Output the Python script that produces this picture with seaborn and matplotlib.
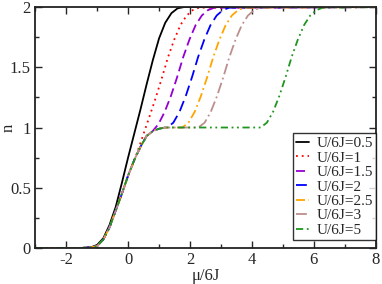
import matplotlib
matplotlib.use("Agg")
import matplotlib.pyplot as plt
import seaborn as sns
from matplotlib.ticker import MultipleLocator

sns.set_style("ticks")
plt.rcParams["font.family"] = ["Liberation Serif", "DejaVu Serif"]

# values
mu_low = [-3, -1.5, -1.2, -1.0, -0.8, -0.6, -0.4, -0.2, 0.0, 0.2, 0.4, 0.6, 0.8, 1.0, 1.2]
n_low = [0, 0, 0.005, 0.015, 0.07, 0.17, 0.31, 0.45, 0.6, 0.73, 0.84, 0.93, 0.97, 0.99, 1.0]
n_top = [1.0, 1.04, 1.13, 1.26, 1.415, 1.585, 1.73, 1.85, 1.93, 1.975, 1.995, 2.0]

mu_u05 = [-3, -1.5, -1.2, -1.0, -0.8, -0.6, -0.4, -0.2, 0.0, 0.2, 0.4, 0.6, 0.8, 1.0, 1.2, 1.4, 1.6, 1.8, 8]
n_u05 = [0, 0, 0.005, 0.025, 0.08, 0.19, 0.34, 0.54, 0.75, 0.95, 1.15, 1.36, 1.56, 1.74, 1.87, 1.95, 1.99, 2.0, 2.0]

mu_u1 = mu_low[:10] + [0.29, 0.49, 0.69, 0.89, 1.09, 1.29, 1.49, 1.69, 1.89, 2.09, 2.29, 8]
n_u1 = n_low[:10] + [0.79, 0.94, 1.09, 1.245, 1.41, 1.585, 1.73, 1.85, 1.93, 1.975, 1.995, 2.0]

mu_u15 = mu_low[:12] + [0.78, 0.98, 1.18, 1.38, 1.58, 1.78, 1.98, 2.18, 2.38, 2.58, 2.78, 8]
n_u15 = n_low[:12] + [0.966, 1.028, 1.129, 1.26, 1.415, 1.585, 1.73, 1.85, 1.93, 1.975, 1.995, 2.0]

mu_u2 = mu_low + [1.26, 1.46, 1.66, 1.86, 2.06, 2.26, 2.46, 2.66, 2.86, 3.06, 3.26, 8]
mu_u25 = mu_low + [1.75, 1.95, 2.15, 2.35, 2.55, 2.75, 2.95, 3.15, 3.35, 3.55, 3.75, 8]
mu_u3 = mu_low + [2.27, 2.47, 2.67, 2.87, 3.07, 3.27, 3.47, 3.67, 3.87, 4.07, 4.27, 8]
mu_u5 = mu_low + [4.28, 4.48, 4.68, 4.88, 5.08, 5.28, 5.48, 5.68, 5.88, 6.08, 6.28, 8]

labels = ["U/6J=0.5", "U/6J=1", "U/6J=1.5", "U/6J=2", "U/6J=2.5", "U/6J=3", "U/6J=5"]
colors = ["black", "#ff0000", "#9400d3", "#0000ff", "#ffa500", "#bc8f8f", "#1e961e"]
styles = ["-", (0, (1, 2.2)), (0, (5, 2.5)), (0, (6, 3)), (0, (5, 2, 1, 2)),
          (0, (6, 2, 1, 2)), (0, (4, 2, 1, 2, 1, 2))]

xticks = [-2, 0, 2, 4, 6, 8]
yticks = [0, 0.5, 1, 1.5, 2]
ytick_labels = ["0", "0.5", "1", "1.5", "2"]

curves = [
    (mu_u05, n_u05),
    (mu_u1, n_u1),
    (mu_u15, n_u15),
    (mu_u2, n_low + n_top),
    (mu_u25, n_low + n_top),
    (mu_u3, n_low + n_top),
    (mu_u5, n_low + n_top),
]

fig = plt.figure(figsize=(3.82, 2.84), dpi=100)
ax = fig.add_axes([0.092, 0.127, 0.892, 0.848])

for (x, y), lab, c, ls in zip(curves, labels, colors, styles):
    sns.lineplot(x=x, y=y, ax=ax, color=c, linestyle=ls, linewidth=1.3, label=lab)

ax.set_xlim(-3, 8)
ax.set_ylim(0, 2)
ax.set_xticks(xticks, labels=[str(t) for t in xticks])
ax.set_yticks(yticks, labels=ytick_labels)
ax.xaxis.set_minor_locator(MultipleLocator(1))
ax.yaxis.set_minor_locator(MultipleLocator(0.25))
ax.tick_params(which="both", direction="in", top=True, right=True, labelsize=12, pad=3)
ax.tick_params(which="major", length=5, width=1)
ax.tick_params(which="minor", length=3, width=1)
for s in ax.spines.values():
    s.set_linewidth(1.3)
    s.set_color("#222222")

ax.set_xlabel("μ/6J", fontsize=12, labelpad=0)
ax.set_ylabel("n", fontsize=12)
ax.yaxis.set_label_coords(-0.054, 0.5)

leg = ax.legend(loc="lower right", bbox_to_anchor=(1.0, 0.033), borderaxespad=0,
                fontsize=11, frameon=True, fancybox=False, handlelength=0.9,
                handletextpad=0.45, labelspacing=0.05, borderpad=0.2)
leg.get_frame().set_edgecolor("black")
leg.get_frame().set_linewidth(1.0)

fig.savefig("out.png", dpi=100)
